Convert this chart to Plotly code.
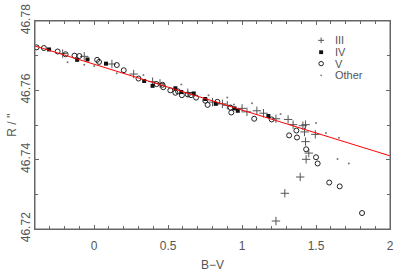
import plotly.graph_objects as go

# ---- data ----
iii_bv = [-0.213, -0.067, 0.12, 0.267, 0.395, 0.445, 0.633, 0.8, 0.867, 0.9, 1.0, 1.033,
          1.1, 1.145, 1.229, 1.311, 1.345, 1.411, 1.429, 1.422, 1.495, 1.429, 1.451,
          1.433, 1.393, 1.289, 1.229]
iii_r = [46.7706, 46.7698, 46.7676, 46.7647, 46.7625, 46.7620, 46.7593, 46.7566, 46.7561,
         46.7557, 46.7548, 46.7538, 46.7541, 46.7534, 46.7518, 46.7516, 46.7501, 46.7498,
         46.7501, 46.7480, 46.7473, 46.7452, 46.7419, 46.7401, 46.7350, 46.7303, 46.7223]

iv_bv = [-0.305, -0.115, -0.045, 0.08, 0.338, 0.395, 0.549, 0.589, 0.673, 0.751, 0.822,
         0.949, 0.971, 1.178]
iv_r = [46.7718, 46.7688, 46.7689, 46.7677, 46.7627, 46.7613, 46.7606, 46.7595, 46.7591,
        46.7575, 46.7561, 46.7548, 46.7541, 46.7526]

v_bv = [-0.389, -0.34, -0.247, -0.193, -0.133, -0.1, 0.02, 0.033, 0.153, 0.2, 0.3, 0.422,
        0.462, 0.467, 0.515, 0.549, 0.567, 0.593, 0.633, 0.655, 0.689, 0.751, 0.767, 0.833,
        0.922, 0.927, 1.082, 1.2, 1.318, 1.367, 1.371, 1.433, 1.5, 1.511, 1.589, 1.66, 1.811]
v_r = [46.7724, 46.7722, 46.7712, 46.7704, 46.7700, 46.7699, 46.7688, 46.7682, 46.7673,
       46.7658, 46.7634, 46.7618, 46.7616, 46.7609, 46.7600, 46.7593, 46.7597, 46.7586,
       46.7588, 46.7586, 46.7579, 46.7570, 46.7558, 46.7567, 46.7550, 46.7536, 46.7518,
       46.7516, 46.7470, 46.7484, 46.7464, 46.7430, 46.7407, 46.7389, 46.7334, 46.7323,
       46.7246]

oth_bv = [-0.18, -0.067, 0.0, 0.153, 0.2, 0.333, 0.589, 0.773, 0.9, 0.945, 1.067, 1.26,
          1.5, 1.567, 1.655, 1.645, 1.722]
oth_r = [46.7681, 46.7674, 46.7670, 46.7649, 46.7650, 46.7644, 46.7617, 46.7586, 46.7579,
         46.7559, 46.7563, 46.7532, 46.7506, 46.7477, 46.7463, 46.7402, 46.7389]

fit_bv = [-0.4, 2.0]
fit_r = [46.7728, 46.7411]

x_ticks = [0, 0.5, 1, 1.5, 2]
x_ticklabels = ["0", "0.5", "1", "1.5", "2"]
y_ticks = [46.72, 46.74, 46.76, 46.78]
y_ticklabels = ["46.72", "46.74", "46.76", "46.78"]

legend_labels = ["III", "IV", "V", "Other"]

# ---- styles ----
FONT = "Liberation Sans, Arial, sans-serif"
TXT = "#555555"
AX = "#666666"

sym_cross = dict(symbol="cross-thin", size=6, line=dict(width=1, color="#555555"))
sym_sq = dict(symbol="square", size=4, color="#111111", line=dict(width=0))
sym_circ = dict(symbol="circle-open", size=5, color="#222222", line=dict(width=1))
sym_dot = dict(symbol="circle", size=2, color="#777777", line=dict(width=0))

fig = go.Figure()
fig.add_trace(go.Scatter(x=oth_bv, y=oth_r, mode="markers", marker=sym_dot, name="Other"))
fig.add_trace(go.Scatter(x=iii_bv, y=iii_r, mode="markers", marker=sym_cross, name="III"))
fig.add_trace(go.Scatter(x=v_bv, y=v_r, mode="markers", marker=sym_circ, name="V"))
fig.add_trace(go.Scatter(x=iv_bv, y=iv_r, mode="markers", marker=sym_sq, name="IV"))
fig.add_trace(go.Scatter(x=fit_bv, y=fit_r, mode="lines", line=dict(color="#ff0000", width=1),
                         name="fit"))

# frame around the plot area
fig.add_shape(type="rect", xref="paper", yref="paper", x0=0, x1=1, y0=0, y1=1,
              line=dict(color=AX, width=1), layer="above")

# ---- hand-made compact legend: small shapes + text in paper coordinates ----
PW, PH = 359.0, 220.0          # plot area size in px (for symbol sizes)
lx = 0.806                     # symbol centre (paper x)
leg_y = [0.907, 0.85, 0.795, 0.739]
hx, hy = 3.0 / PW, 3.0 / PH    # cross half-size
fig.add_shape(type="line", xref="paper", yref="paper", x0=lx - hx, x1=lx + hx,
              y0=leg_y[0], y1=leg_y[0], line=dict(color="#555555", width=1))
fig.add_shape(type="line", xref="paper", yref="paper", x0=lx, x1=lx,
              y0=leg_y[0] - hy, y1=leg_y[0] + hy, line=dict(color="#555555", width=1))
sx, sy = 2.0 / PW, 2.0 / PH
fig.add_shape(type="rect", xref="paper", yref="paper", x0=lx - sx, x1=lx + sx,
              y0=leg_y[1] - sy, y1=leg_y[1] + sy, fillcolor="#111111", line=dict(width=0))
cx, cy = 2.3 / PW, 2.3 / PH
fig.add_shape(type="circle", xref="paper", yref="paper", x0=lx - cx, x1=lx + cx,
              y0=leg_y[2] - cy, y1=leg_y[2] + cy, line=dict(color="#222222", width=1))
dx, dy = 0.9 / PW, 0.9 / PH
fig.add_shape(type="circle", xref="paper", yref="paper", x0=lx - dx, x1=lx + dx,
              y0=leg_y[3] - dy, y1=leg_y[3] + dy, fillcolor="#777777", line=dict(width=0))
for lab, yy in zip(legend_labels, leg_y):
    fig.add_annotation(x=0.843, y=yy, xref="paper", yref="paper", text=lab,
                       showarrow=False, xanchor="left", yanchor="middle",
                       borderpad=0,
                       font=dict(family=FONT, size=11, color=TXT))

axis_common = dict(showline=True, linecolor=AX, linewidth=1, mirror="allticks",
                   ticks="inside", tickcolor=AX, ticklen=4, showgrid=False, zeroline=False,
                   ticklabeloverflow="allow",
                   tickfont=dict(family=FONT, size=12, color=TXT))

fig.update_layout(
    width=398, height=274,
    margin=dict(l=35, r=4, t=15, b=39),
    paper_bgcolor="white", plot_bgcolor="white",
    showlegend=False,
    font=dict(family=FONT, size=12, color=TXT),
    xaxis=dict(range=[-0.4, 2.0000001], tickmode="array", tickvals=x_ticks,
               ticktext=x_ticklabels,
               minor=dict(dtick=0.1, tick0=0, ticks="inside", ticklen=3, tickcolor=AX),
               ticklabelstandoff=6,
               title=dict(text="B−V", font=dict(family=FONT, size=12, color=TXT), standoff=8),
               **axis_common),
    yaxis=dict(range=[46.7199999, 46.7800001], tickmode="array", tickvals=y_ticks,
               ticktext=y_ticklabels,
               tickangle=-90, ticklabelstandoff=-1,
               minor=dict(dtick=0.01, tick0=46.72, ticks="inside", ticklen=3, tickcolor=AX),
               title=dict(text="R / ''", font=dict(family=FONT, size=12, color=TXT), standoff=0),
               **axis_common),
)

fig.write_html("out.html", config={"displayModeBar": False},
               post_script="document.body.style.margin='0';document.body.style.overflow='hidden';")
